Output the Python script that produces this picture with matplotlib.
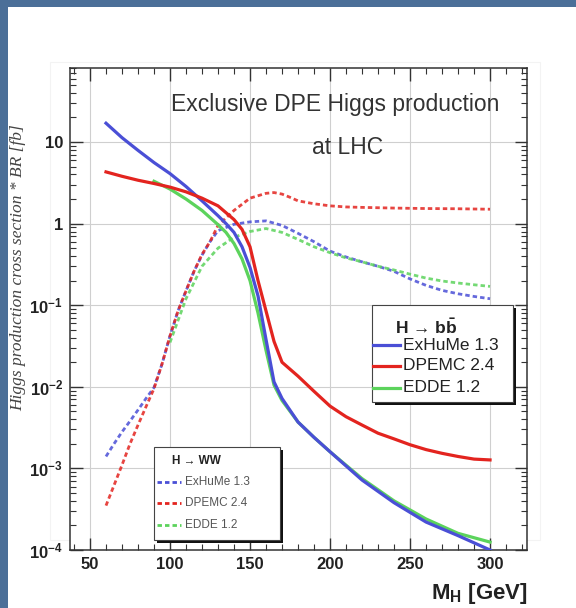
import matplotlib
matplotlib.use('Agg')
import matplotlib.pyplot as plt
from matplotlib.patches import Rectangle
from matplotlib.lines import Line2D
from matplotlib.ticker import MultipleLocator, LogLocator, FixedLocator, FixedFormatter, NullFormatter

plt.rcParams['font.family'] = ['Liberation Sans', 'DejaVu Sans']
plt.rcParams['mathtext.fontset'] = 'custom'
plt.rcParams['mathtext.rm'] = 'Liberation Sans'
plt.rcParams['mathtext.bf'] = 'Liberation Sans:bold'
plt.rcParams['mathtext.it'] = 'Liberation Sans:italic'

# H -> bb (solid curves), sigma * BR in fb
mh_exhume_bb = [60, 70, 80, 90, 100, 110, 120, 130, 135, 140, 145, 150, 155, 160, 165, 170,
                180, 190, 200, 220, 240, 260, 280, 300]
exhume_bb = [17, 11.3, 7.9, 5.6, 4.1, 2.85, 1.9, 1.25, 1.0, 0.78, 0.52, 0.29, 0.13, 0.038, 0.0115,
             0.0072, 0.0037, 0.0024, 0.0016, 0.00072, 0.00038, 0.00022, 0.00015, 0.0001]

mh_dpemc_bb = [60, 70, 80, 90, 100, 110, 120, 130, 140, 145, 150, 155, 160, 165, 170, 180, 190,
               200, 210, 220, 230, 240, 250, 260, 270, 280, 290, 300]
dpemc_bb = [4.3, 3.8, 3.4, 3.1, 2.8, 2.45, 2.05, 1.65, 1.12, 0.85, 0.52, 0.2, 0.085, 0.036, 0.02,
            0.0135, 0.0088, 0.0058, 0.0043, 0.0034, 0.0027, 0.0023, 0.00195, 0.0017, 0.00153,
            0.0014, 0.0013, 0.00127]

mh_edde_bb = [90, 100, 110, 120, 130, 135, 140, 145, 150, 155, 160, 165, 170, 180, 190, 200,
              220, 240, 260, 280, 300]
edde_bb = [3.3, 2.65, 2.0, 1.45, 0.97, 0.78, 0.57, 0.37, 0.2, 0.08, 0.028, 0.0105, 0.0068, 0.0037,
           0.0024, 0.0016, 0.00075, 0.0004, 0.00024, 0.00016, 0.000125]

# H -> WW (dotted curves)
mh_exhume_ww = [60, 65, 70, 75, 80, 85, 90, 95, 100, 105, 110, 115, 120, 125, 130, 140, 150, 160,
                170, 180, 190, 200, 210, 220, 230, 240, 250, 260, 270, 280, 290, 300]
exhume_ww = [0.0014, 0.002, 0.0028, 0.0038, 0.0052, 0.0072, 0.0098, 0.019, 0.042, 0.085, 0.15,
             0.26, 0.41, 0.6, 0.82, 0.98, 1.05, 1.08, 0.95, 0.76, 0.6, 0.46, 0.39, 0.34, 0.3,
             0.26, 0.21, 0.175, 0.152, 0.138, 0.128, 0.12]

mh_dpemc_ww = [60, 65, 70, 75, 80, 85, 90, 95, 100, 105, 110, 115, 120, 125, 130, 140, 150, 160,
               165, 170, 175, 180, 190, 200, 210, 220, 240, 260, 280, 300]
dpemc_ww = [0.00035, 0.00062, 0.0011, 0.002, 0.0034, 0.0057, 0.0095, 0.019, 0.042, 0.085, 0.15,
            0.26, 0.42, 0.6, 0.95, 1.45, 2.05, 2.35, 2.4, 2.3, 2.1, 1.9, 1.75, 1.65, 1.6, 1.58,
            1.55, 1.53, 1.52, 1.5]

mh_edde_ww = [100, 110, 120, 130, 140, 150, 160, 170, 180, 190, 200, 210, 220, 230, 240, 250,
              260, 270, 280, 290, 300]
edde_ww = [0.035, 0.12, 0.3, 0.5, 0.68, 0.8, 0.87, 0.78, 0.64, 0.52, 0.44, 0.38, 0.34, 0.3, 0.27,
           0.24, 0.215, 0.198, 0.187, 0.178, 0.17]

generators = ['ExHuMe 1.3', 'DPEMC 2.4', 'EDDE 1.2']
colors = ['#4a4fd6', '#e3241f', '#5cd35c']

y_ticks = [1e-4, 1e-3, 1e-2, 1e-1, 1, 10]
y_ticklabels = [r'$\mathbf{10^{-4}}$', r'$\mathbf{10^{-3}}$', r'$\mathbf{10^{-2}}$',
                r'$\mathbf{10^{-1}}$', '1', '10']

W, H = 576, 608
DOTTED = (0, (1.6, 1.1))


def fx(x):
    return x / W


def fy(y):
    return 1 - y / H


def draw_legend(fig, box, header, entries, fontsize, text_color, linestyle, lw,
                header_x, header_y, rows_y, line_x, text_x):
    x0, y0, x1, y1 = box
    # black drop shadow, then the white box
    fig.patches.append(Rectangle((fx(x0 + 3), fy(y1 + 3)), fx(x1 - x0), (y1 - y0) / H,
                                 transform=fig.transFigure, facecolor='#111111',
                                 edgecolor='none', zorder=20))
    fig.patches.append(Rectangle((fx(x0), fy(y1)), fx(x1 - x0), (y1 - y0) / H,
                                 transform=fig.transFigure, facecolor='white',
                                 edgecolor='#444444', linewidth=0.8, zorder=21))
    fig.text(fx(header_x), fy(header_y), header, fontsize=fontsize, fontweight='bold',
             color='#222222', va='center', ha='left', zorder=22)
    for (label, color), yy in zip(entries, rows_y):
        fig.add_artist(Line2D([fx(line_x[0]), fx(line_x[1])], [fy(yy), fy(yy)],
                              transform=fig.transFigure, color=color, lw=lw,
                              linestyle=linestyle, zorder=22))
        fig.text(fx(text_x), fy(yy), label, fontsize=fontsize, color=text_color,
                 va='center', ha='left', zorder=22)


fig = plt.figure(figsize=(W / 100, H / 100), dpi=100)
fig.patch.set_facecolor('#4b6f98')
# white slide area
fig.patches.append(Rectangle((fx(8), 0), 1, fy(7), transform=fig.transFigure,
                             facecolor='white', edgecolor='none', zorder=0))
# faint pad outline
fig.patches.append(Rectangle((fx(50), fy(540)), fx(540 - 50), (540 - 62) / H,
                             transform=fig.transFigure, facecolor='none',
                             edgecolor='#f3f3f3', linewidth=0.8, zorder=1))

ax = fig.add_axes([fx(70), fy(550), fx(527 - 70), (550 - 68) / H])
ax.set_zorder(5)
ax.set_facecolor('white')
ax.set_yscale('log')
ax.set_xlim(37.5, 323.1)
ax.set_ylim(1e-4, 80.7)

ax.grid(True, which='major', color='#cfcfcf', linewidth=0.8, zorder=0)

# WW decay: dotted
for mh, vals, color in [(mh_exhume_ww, exhume_ww, colors[0]),
                        (mh_edde_ww, edde_ww, colors[2]),
                        (mh_dpemc_ww, dpemc_ww, colors[1])]:
    ax.plot(mh, vals, color=color, lw=2.0, linestyle=DOTTED, alpha=0.85, zorder=3)

# bb decay: solid
for mh, vals, color in [(mh_edde_bb, edde_bb, colors[2]),
                        (mh_exhume_bb, exhume_bb, colors[0]),
                        (mh_dpemc_bb, dpemc_bb, colors[1])]:
    ax.plot(mh, vals, color=color, lw=2.3, solid_joinstyle='round', zorder=4)

ax.xaxis.set_major_locator(MultipleLocator(50))
ax.xaxis.set_minor_locator(MultipleLocator(10))
ax.yaxis.set_major_locator(FixedLocator(y_ticks))
ax.yaxis.set_major_formatter(FixedFormatter(y_ticklabels))
ax.yaxis.set_minor_locator(LogLocator(base=10, subs=range(2, 10), numticks=20))
ax.yaxis.set_minor_formatter(NullFormatter())

ax.tick_params(which='both', direction='in', top=True, right=True, colors='#333333')
ax.tick_params(which='major', length=9, width=1.0, labelsize=12, pad=5)
ax.tick_params(which='minor', length=4.5, width=0.8)
ax.set_xticks([50, 100, 150, 200, 250, 300])
ax.set_xticklabels(['50', '100', '150', '200', '250', '300'])
for lab in ax.get_xticklabels() + ax.get_yticklabels():
    lab.set_fontweight('bold')
    lab.set_color('#222222')
for sp in ax.spines.values():
    sp.set_color('#333333')
    sp.set_linewidth(1.1)

fig.text(fx(335), fy(104), 'Exclusive DPE Higgs production', fontsize=16.5,
         color='#333333', ha='center', va='center', zorder=6)
fig.text(fx(348), fy(147), 'at LHC', fontsize=16.5, color='#333333', ha='center', va='center',
         zorder=6)

fig.text(fx(528), fy(593), r'$\mathbf{M_{H}}$ [GeV]', fontsize=16, fontweight='bold',
         color='#222222', ha='right', va='center')
fig.text(fx(18), fy(268), 'Higgs production cross section * BR [fb]', rotation=90,
         fontsize=12.5, family='Liberation Serif', style='italic', color='#444444',
         ha='center', va='center')

draw_legend(fig, (372, 305, 513, 402), 'H → b' + r'$\mathbf{\bar{b}}$',
            list(zip(generators, colors)), 12.5, '#222222', '-', 2.3,
            395, 327, [345, 366, 388], (373, 400), 403)
draw_legend(fig, (154, 447, 280, 540), 'H → WW',
            list(zip(generators, colors)), 8.5, '#555555', DOTTED, 2.0,
            172, 461, [482, 503, 525], (157, 181), 185)

fig.savefig('out.png', dpi=100)
